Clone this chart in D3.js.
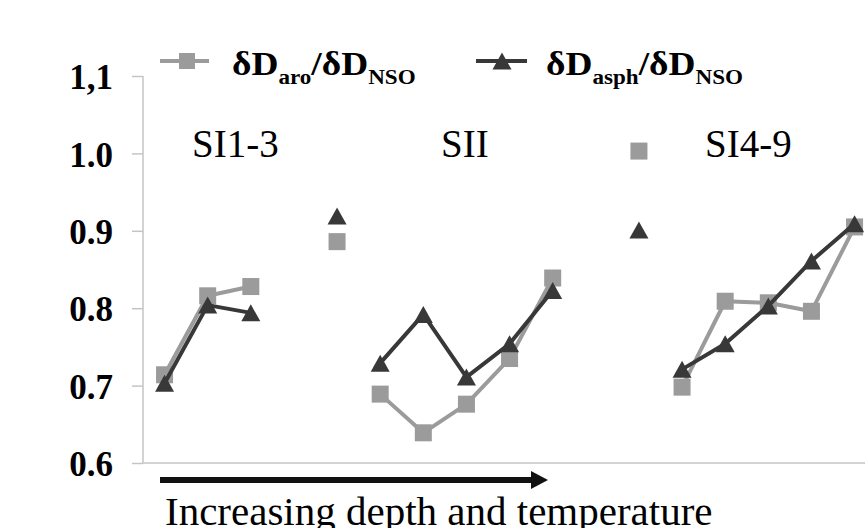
<!DOCTYPE html>
<html>
<head>
<meta charset="utf-8">
<script src="https://cdn.jsdelivr.net/npm/d3@7"></script>
<style>
  body { margin: 0; background: #fff; }
  svg { display: block; }
</style>
</head>
<body>
<svg width="865" height="528"></svg>
<script>
// samples in order of burial depth; blank slots are empty positions on the axis
var samples = ["s1", "s2", "s3", "", "s4", "s5", "s6", "s7", "s8", "s9", " ", "s10", "s11", "s12", "s13", "s14", "s15"]
// which samples are joined by a line (0 = lone point)
var groupOf = [1, 1, 1, null, 0, 2, 2, 2, 2, 2, null, 0, 3, 3, 3, 3, 3]
var aroNso  = [0.714, 0.816, 0.828, null, 0.886, 0.689, 0.639, 0.676, 0.735, 0.839, null, 1.003, 0.698, 0.809, 0.807, 0.796, 0.905]
var asphNso = [0.703, 0.804, 0.794, null, 0.919, 0.729, 0.792, 0.711, 0.754, 0.823, null, 0.901, 0.721, 0.754, 0.803, 0.861, 0.909]
var yTicks = [0.6, 0.7, 0.8, 0.9, 1.0, 1.1]
var yTickLabels = ["0.6", "0.7", "0.8", "0.9", "1.0", "1,1"]
var zoneLabels = ["SI1-3", "SII", "SI4-9"]
var zoneX = [192, 441, 705]

var serif = "'Liberation Serif', 'Times New Roman', Times, serif"
var svg = d3.select("svg")

var x = d3.scaleBand()
    .domain(samples)
    .range([143, 143 + 17 * 43.125])
var y = d3.scaleLinear()
    .domain([0.6, 1.1])
    .range([463, 76])

var grey = "#9b9b9b"
var dark = "#383838"
var axisCol = "#c4c4c4"

var cx = function(i) { return x(samples[i]) + x.bandwidth() / 2 }

// axes
var yAxis = svg.append("g")
    .attr("transform", "translate(143,0)")
    .call(d3.axisLeft(y).tickValues(yTicks).tickSize(11).tickPadding(19)
        .tickFormat(function(d, i) { return yTickLabels[i] }))
yAxis.select(".domain").attr("stroke", axisCol).attr("stroke-width", 1.5)
    .attr("d", "M0," + y(1.1) + "V" + y(0.6))
yAxis.selectAll(".tick line").attr("stroke", axisCol).attr("stroke-width", 1.5)
yAxis.selectAll(".tick text")
    .attr("fill", "#000")
    .style("font-family", serif)
    .style("font-weight", "bold")
    .style("font-size", "35px")
    .attr("dy", "0.36em")

svg.append("line")
    .attr("x1", 143).attr("x2", 865)
    .attr("y1", y(0.6)).attr("y2", y(0.6))
    .attr("stroke", axisCol).attr("stroke-width", 1.5)

// zone labels
svg.selectAll(".zone")
    .data(zoneLabels)
    .enter().append("text")
    .attr("class", "zone")
    .attr("x", function(d, i) { return zoneX[i] })
    .attr("y", 157)
    .style("font-family", serif)
    .style("font-size", "39px")
    .text(function(d) { return d })

// lines, one per group
function drawLines(values, colour) {
    [1, 2, 3].forEach(function(g) {
        var idx = d3.range(samples.length).filter(function(i) { return groupOf[i] === g })
        svg.append("path")
            .datum(idx)
            .attr("fill", "none")
            .attr("stroke", colour)
            .attr("stroke-width", 4)
            .attr("stroke-linejoin", "round")
            .attr("d", d3.line().x(cx).y(function(i) { return y(values[i]) }))
    })
}

var tri = function(w, h) { return "M0," + (-h / 2) + "L" + (w / 2) + "," + (h / 2) + "L" + (-w / 2) + "," + (h / 2) + "Z" }

var idxAll = d3.range(samples.length).filter(function(i) { return aroNso[i] != null })

drawLines(aroNso, grey)
svg.append("g").selectAll("rect")
    .data(idxAll)
    .enter().append("rect")
    .attr("x", function(i) { return cx(i) - 8.5 })
    .attr("y", function(i) { return y(aroNso[i]) - 8.5 })
    .attr("width", 17).attr("height", 17)
    .attr("fill", grey)

drawLines(asphNso, dark)
svg.append("g").selectAll("path")
    .data(idxAll)
    .enter().append("path")
    .attr("transform", function(i) { return "translate(" + cx(i) + "," + y(asphNso[i]) + ")" })
    .attr("d", tri(19, 17))
    .attr("fill", dark)

// legend
var legend = svg.append("g")
legend.append("line").attr("x1", 160).attr("x2", 209).attr("y1", 61).attr("y2", 61)
    .attr("stroke", grey).attr("stroke-width", 4)
legend.append("rect").attr("x", 179).attr("y", 53).attr("width", 16).attr("height", 16).attr("fill", grey)
legend.append("line").attr("x1", 476).attr("x2", 527).attr("y1", 61).attr("y2", 61)
    .attr("stroke", dark).attr("stroke-width", 4)
legend.append("path").attr("transform", "translate(502,61)").attr("d", tri(19, 17)).attr("fill", dark)

function legendText(xPos, sub) {
    var t = legend.append("text")
        .attr("transform", "translate(" + xPos + ",75) scale(1.1,1)")
        .style("font-family", serif)
        .style("font-weight", "bold")
        .style("font-size", "34px")
    t.append("tspan").text("δD")
    t.append("tspan").attr("dy", 9).style("font-size", "21px").text(sub)
    t.append("tspan").attr("dy", -9).text("/δD")
    t.append("tspan").attr("dy", 9).style("font-size", "21px").text("NSO")
}
legendText(232, "aro")
legendText(546, "asph")

// depth arrow
svg.append("line")
    .attr("x1", 160).attr("x2", 534)
    .attr("y1", 480).attr("y2", 480)
    .attr("stroke", "#111").attr("stroke-width", 6)
svg.append("path")
    .attr("d", "M531,471L548,480L531,489Z")
    .attr("fill", "#111")
svg.append("text")
    .attr("x", 165).attr("y", 525)
    .style("font-family", serif)
    .style("font-size", "41px")
    .text("Increasing depth and temperature")
</script>
</body>
</html>
